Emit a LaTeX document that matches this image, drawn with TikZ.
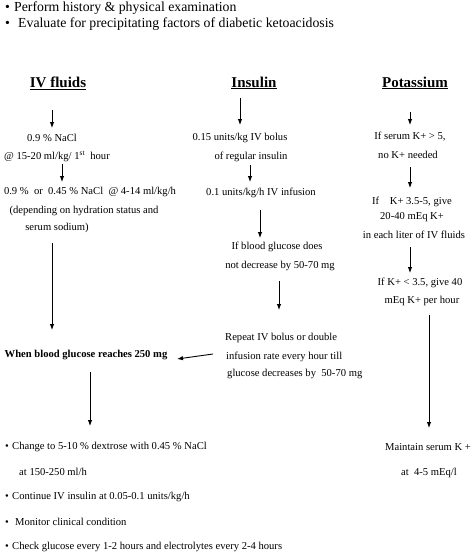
\documentclass[tikz,border=0pt]{standalone}
\usepackage{fontspec}
\setmainfont{Liberation Serif}
\usetikzlibrary{arrows.meta}
\begin{document}
\begin{tikzpicture}[x=1pt,y=-1pt,
  txt/.style={inner sep=0pt,font=\fontsize{10.6}{12}\selectfont},
  lt/.style={txt,anchor=west},
  topl/.style={inner sep=0pt,anchor=west,font=\fontsize{13.8}{15}\selectfont},
  ttl/.style={inner sep=0pt,font=\fontsize{15}{17}\selectfont\bfseries},
  arr/.style={-{Latex[length=6pt,width=4.5pt]}, line width=0.9pt}]
\useasboundingbox[fill=white] (0,0) rectangle (474,554);
% top bullets
\node[topl] (b1) at (5,8) {\makebox[9pt][l]{•}Perform history \& physical examination};
\node[topl] (b2) at (5,24) {\makebox[13pt][l]{•}Evaluate for precipitating factors of diabetic ketoacidosis};
% titles
\node[ttl] (h1) at (58,83) {\underline{IV fluids}};
\node[ttl] (h2) at (254,83) {\underline{Insulin}};
\node[ttl] (h3) at (415,83) {\underline{Potassium}};
% IV fluids column
\node[txt] (f1) at (52,138) {0.9 \% NaCl};
\node[txt] (f2) at (57,157) {@ 15-20 ml/kg/ 1\textsuperscript{st}\ \ hour};
\node[txt] (f3) at (90,192) {0.9 \%\ \ or\ \ 0.45 \% NaCl\ \ @ 4-14 ml/kg/h};
\node[txt] (f4) at (84,211) {(depending on hydration status and};
\node[txt] (f5) at (57,228) {serum sodium)};
\node[txt,font=\fontsize{10.6}{12}\selectfont\bfseries] (g1) at (86,355) {When blood glucose reaches 250 mg};
\node[lt] (c1) at (5,447) {\makebox[7pt][l]{•}Change to 5-10 \% dextrose with 0.45 \% NaCl};
\node[lt] (c2) at (19,472) {at 150-250 ml/h};
\node[lt] (c3) at (5,497) {\makebox[7pt][l]{•}Continue IV insulin at 0.05-0.1 units/kg/h};
\node[lt] (c4) at (5,522) {\makebox[10pt][l]{•}Monitor clinical condition};
\node[lt] (c5) at (5,547) {\makebox[7pt][l]{•}Check glucose every 1-2 hours and electrolytes every 2-4 hours};
% Insulin column
\node[txt] (i1) at (240,138) {0.15 units/kg IV bolus};
\node[txt] (i2) at (251,157) {of regular insulin};
\node[txt] (i3) at (261,193) {0.1 units/kg/h IV infusion};
\node[txt] (i4) at (277,247) {If blood glucose does};
\node[txt] (i5) at (280,266) {not decrease by 50-70 mg};
\node[lt] (r1) at (225,338) {Repeat IV bolus or double};
\node[lt] (r2) at (226,357) {infusion rate every hour till};
\node[lt] (r3) at (227,374) {glucose decreases by\ \ 50-70 mg};
% Potassium column
\node[txt] (k1) at (410,137) {If serum K+ > 5,};
\node[txt] (k2) at (408,155) {no K+ needed};
\node[txt] (k3) at (412,202) {If\ \ \ \ K+ 3.5-5, give};
\node[txt] (k4) at (412,217) {20-40 mEq K+};
\node[txt] (k5) at (414,235) {in each liter of IV fluids};
\node[txt] (k6) at (420,283) {If K+ < 3.5, give 40};
\node[txt] (k7) at (422,301) {mEq K+ per hour};
\node[txt] (k8) at (428,447) {Maintain serum K +};
\node[txt] (k9) at (429,473) {at\ \ 4-5 mEq/l};
% arrow end points
\coordinate (a1s) at (52,110); \coordinate (a1e) at (52,128);
\coordinate (a2s) at (62,164); \coordinate (a2e) at (62,182);
\coordinate (a3s) at (52,243); \coordinate (a3e) at (52,330);
\coordinate (a4s) at (213,354); \coordinate (a4e) at (177,359);
\coordinate (a5s) at (90,372); \coordinate (a5e) at (90,426);
\coordinate (b1s) at (240,98); \coordinate (b1e) at (240,125);
\coordinate (b2s) at (250,165); \coordinate (b2e) at (250,182);
\coordinate (b3s) at (260,210); \coordinate (b3e) at (260,238);
\coordinate (b4s) at (279,281); \coordinate (b4e) at (279,310);
\coordinate (d1s) at (410,112); \coordinate (d1e) at (410,125);
\coordinate (d2s) at (410,167); \coordinate (d2e) at (410,188);
\coordinate (d3s) at (410,247); \coordinate (d3e) at (410,273);
\coordinate (d4s) at (429,315); \coordinate (d4e) at (429,428);
\foreach \a in {a1,a2,a3,a4,a5,b1,b2,b3,b4,d1,d2,d3,d4}
  \draw[arr] (\a s) -- (\a e);
\end{tikzpicture}
\end{document}
